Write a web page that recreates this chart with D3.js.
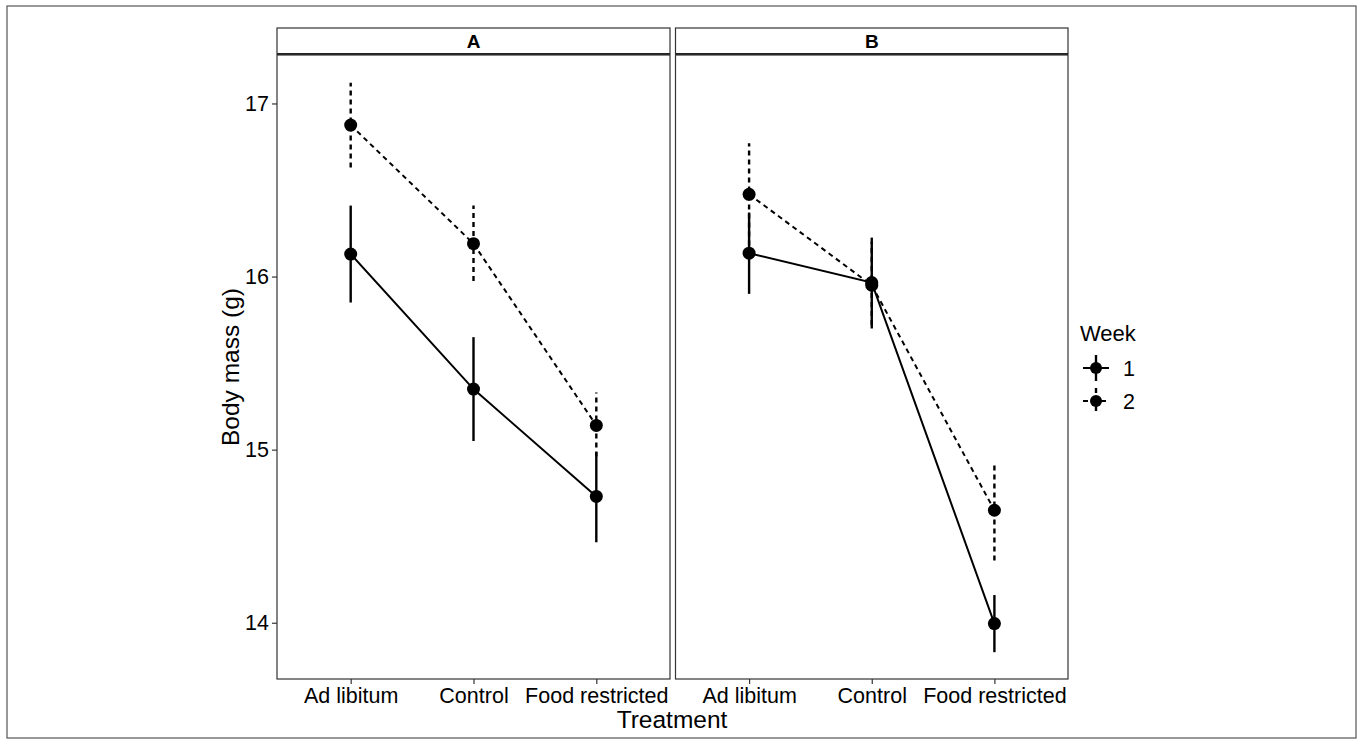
<!DOCTYPE html>
<html>
<head>
<meta charset="utf-8">
<script src="https://cdn.jsdelivr.net/npm/d3@7"></script>
<style>
  body { margin: 0; background: #fff; }
  text { font-family: "Liberation Sans", Arial, Helvetica, sans-serif; fill: #000; }
</style>
</head>
<body>
<div id="chart"></div>
<script>
var treatments = ['Ad libitum', 'Control', 'Food restricted']
  , panels = ['A', 'B']
  , weeks = ['1', '2']
  , yTicks = [14, 15, 16, 17]
  // panel A
  , meanA1 = [16.13, 15.35, 14.73]
  , lowA1 = [15.85, 15.05, 14.465]
  , highA1 = [16.41, 15.65, 14.985]
  , meanA2 = [16.875, 16.19, 15.14]
  , lowA2 = [16.63, 15.975, 14.96]
  , highA2 = [17.12, 16.41, 15.33]
  // panel B
  , meanB1 = [16.135, 15.965, 13.995]
  , lowB1 = [15.90, 15.70, 13.83]
  , highB1 = [16.37, 16.225, 14.16]
  , meanB2 = [16.475, 15.95, 14.65]
  , lowB2 = [16.18, 15.72, 14.36]
  , highB2 = [16.77, 16.20, 14.915]
  ;

(function () {
  var series = {
    A: [{ week: '1', mean: meanA1, low: lowA1, high: highA1 },
        { week: '2', mean: meanA2, low: lowA2, high: highA2 }],
    B: [{ week: '1', mean: meanB1, low: lowB1, high: highB1 },
        { week: '2', mean: meanB2, low: lowB2, high: highB2 }]
  };

  var w = 1362
    , h = 744
    , plotTop = 55
    , plotBottom = 679
    , stripTop = 28
    , panelX = { A: [277, 670], B: [675.5, 1068] }
    , dash = { '1': null, '2': '5,4' }
    , tickFont = '21.5px'
    ;

  var svg = d3.select('#chart').append('svg')
              .attr('width', w).attr('height', h);

  // outer frame
  svg.append('rect')
    .attr('x', 7).attr('y', 6).attr('width', 1349).attr('height', 732)
    .attr('fill', 'none').attr('stroke', '#555').attr('stroke-width', 1.2);

  var y = d3.scaleLinear().domain([13.675, 17.28]).range([plotBottom, plotTop]);

  panels.forEach(function (p, pi) {
    var x = d3.scaleLinear().domain([-0.6, 2.6]).range(panelX[p])
      , g = svg.append('g')
      , x0 = panelX[p][0]
      , pw = panelX[p][1] - panelX[p][0]
      ;

    // strip
    g.append('rect')
      .attr('x', x0).attr('y', stripTop).attr('width', pw).attr('height', plotTop - stripTop - 1)
      .attr('fill', '#fff').attr('stroke', '#333').attr('stroke-width', 1.2);
    g.append('line')
      .attr('x1', x0).attr('x2', x0 + pw).attr('y1', plotTop - 1).attr('y2', plotTop - 1)
      .attr('stroke', '#222').attr('stroke-width', 2);
    g.append('text')
      .attr('x', x0 + pw / 2).attr('y', 48)
      .attr('text-anchor', 'middle').style('font-size', '19px').style('font-weight', 'bold')
      .text(p);

    var line = d3.line()
      .x(function (d, i) { return x(i); })
      .y(function (d) { return y(d); });

    series[p].forEach(function (s) {
      g.append('path')
        .datum(s.mean)
        .attr('d', line)
        .attr('fill', 'none').attr('stroke', '#000').attr('stroke-width', 2)
        .attr('stroke-dasharray', dash[s.week]);

      g.selectAll(null).data(s.mean).enter()
        .append('line')
        .attr('x1', function (d, i) { return x(i); })
        .attr('x2', function (d, i) { return x(i); })
        .attr('y1', function (d, i) { return y(s.low[i]); })
        .attr('y2', function (d, i) { return y(s.high[i]); })
        .attr('stroke', '#000').attr('stroke-width', 2.4)
        .attr('stroke-dasharray', dash[s.week]);

      g.selectAll(null).data(s.mean).enter()
        .append('circle')
        .attr('cx', function (d, i) { return x(i); })
        .attr('cy', function (d) { return y(d); })
        .attr('r', 6.5)
        .attr('fill', '#000');
    });

    // panel border
    g.append('rect')
      .attr('x', x0).attr('y', plotTop).attr('width', pw).attr('height', plotBottom - plotTop)
      .attr('fill', 'none').attr('stroke', '#333').attr('stroke-width', 1.2);

    // x axis
    var xa = g.append('g').attr('transform', 'translate(0,' + plotBottom + ')')
      .call(d3.axisBottom(x).tickValues([0, 1, 2])
        .tickFormat(function (i) { return treatments[i]; })
        .tickSize(5).tickSizeOuter(0));
    xa.select('.domain').remove();
    xa.selectAll('.tick line').attr('stroke', '#333').attr('stroke-width', 1.2);
    xa.selectAll('.tick text').attr('y', 9).attr('dy', '0.71em')
      .style('font-size', tickFont).attr('fill', '#000');

    if (pi === 0) {
      var ya = g.append('g').attr('transform', 'translate(' + x0 + ',0)')
        .call(d3.axisLeft(y).tickValues(yTicks).tickFormat(d3.format('d'))
          .tickSize(5).tickSizeOuter(0));
      ya.select('.domain').remove();
      ya.selectAll('.tick line').attr('stroke', '#333').attr('stroke-width', 1.2);
      ya.selectAll('.tick text').attr('x', -8).style('font-size', tickFont).attr('fill', '#000');
    }
  });

  // axis titles
  svg.append('text')
    .attr('x', 672).attr('y', 728)
    .attr('text-anchor', 'middle').style('font-size', '24.5px')
    .text('Treatment');
  svg.append('text')
    .attr('transform', 'translate(239,' + (plotTop + plotBottom) / 2 + ') rotate(-90)')
    .attr('text-anchor', 'middle').style('font-size', '24.5px')
    .text('Body mass (g)');

  // legend
  var legend = svg.append('g');
  legend.append('text')
    .attr('x', 1080).attr('y', 341).style('font-size', '22px')
    .text('Week');

  var key = legend.selectAll('g.key').data(weeks).enter()
    .append('g').attr('class', 'key')
    .attr('transform', function (d, i) { return 'translate(1096,' + (368 + i * 33) + ')'; });

  key.append('line')
    .attr('x1', -13).attr('x2', 13).attr('y1', 0).attr('y2', 0)
    .attr('stroke', '#000').attr('stroke-width', 2)
    .attr('stroke-dasharray', function (d) { return dash[d]; });
  key.append('line')
    .attr('x1', 0).attr('x2', 0).attr('y1', -13).attr('y2', 13)
    .attr('stroke', '#000').attr('stroke-width', 2.4)
    .attr('stroke-dasharray', function (d) { return dash[d]; });
  key.append('circle').attr('r', 6).attr('fill', '#000');
  key.append('text')
    .attr('x', 27).attr('dy', '0.36em').style('font-size', tickFont)
    .text(function (d) { return d; });
})();
</script>
</body>
</html>
